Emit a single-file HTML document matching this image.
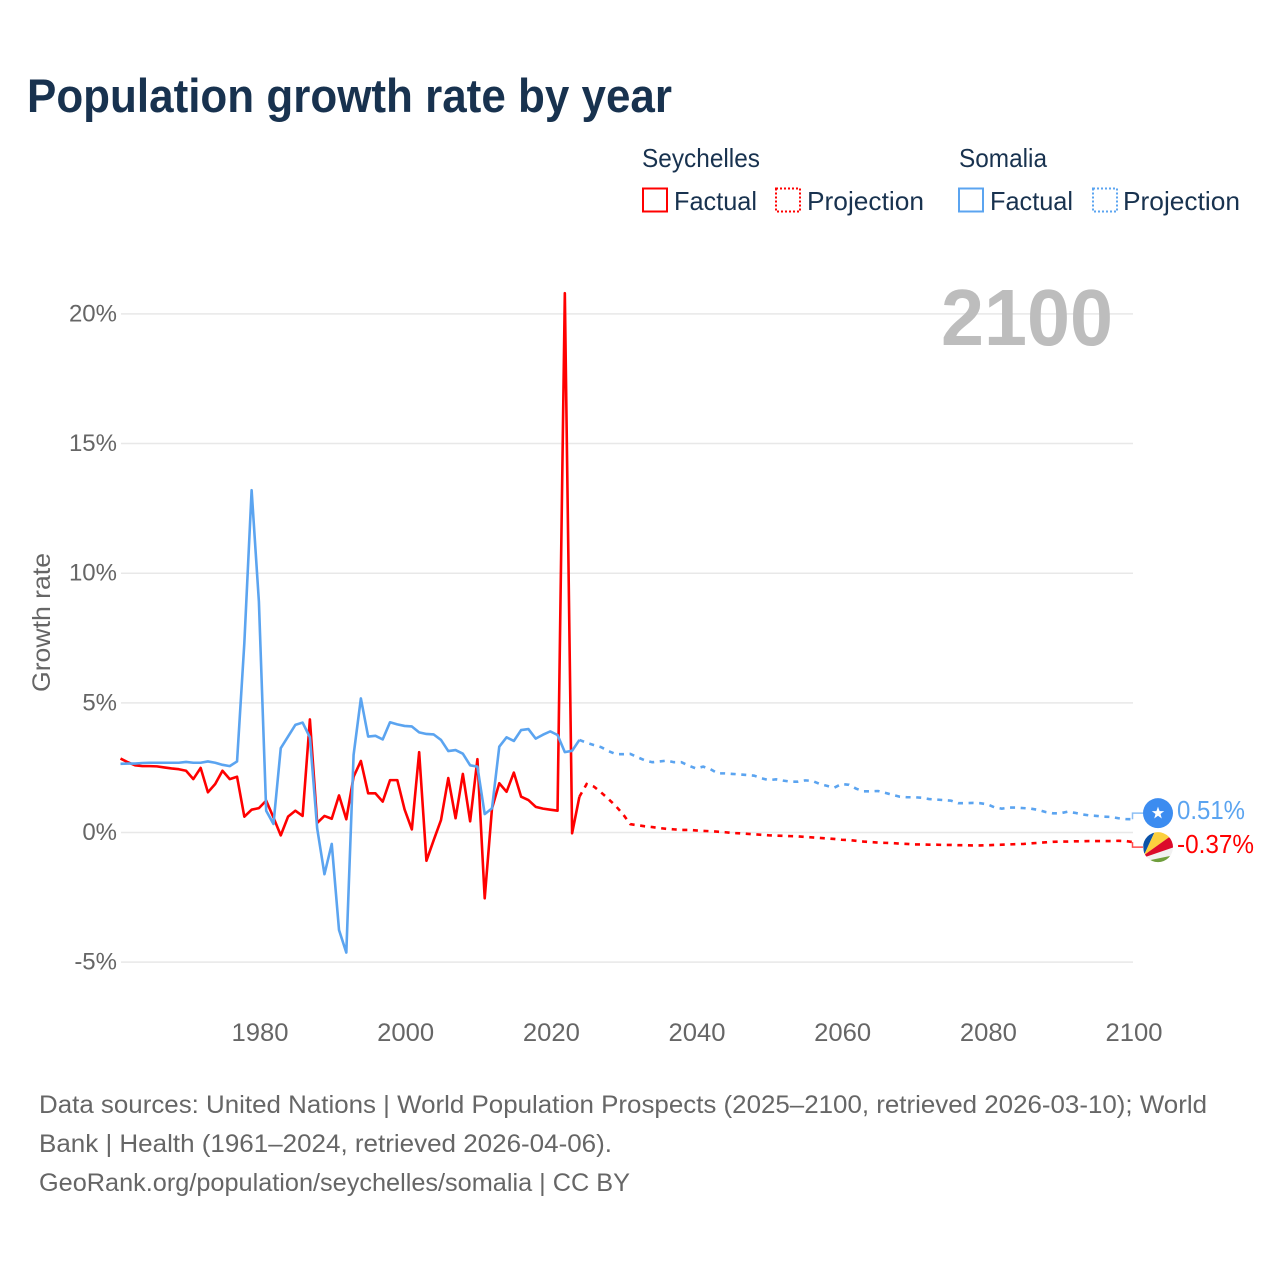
<!DOCTYPE html>
<html lang="en">
<head>
<meta charset="utf-8">
<title>Population growth rate by year</title>
<style>
html,body{margin:0;padding:0;background:#fff;}
svg{display:block;font-family:"Liberation Sans",sans-serif;}
</style>
</head>
<body>
<svg id="chart" xmlns="http://www.w3.org/2000/svg" width="1280" height="1280" viewBox="0 0 1280 1280">
  <defs>
    <clipPath id="flag-clip"><circle cx="0" cy="0" r="15"/></clipPath>
  </defs>
  <rect x="0" y="0" width="1280" height="1280" fill="#fff"/>
  <text x="27" y="112" font-size="47" font-weight="700" fill="#18324f" textLength="645" lengthAdjust="spacingAndGlyphs">Population growth rate by year</text>

  <g font-size="26" fill="#18324f">
    <text x="642" y="167" textLength="118" lengthAdjust="spacingAndGlyphs">Seychelles</text>
    <g>
      <rect x="643" y="188.5" width="24" height="23" fill="none" stroke="#ff0000" stroke-width="2"/>
      <text x="674" y="210" textLength="83" lengthAdjust="spacingAndGlyphs">Factual</text>
    </g>
    <g>
      <rect x="776" y="188.5" width="24" height="23" fill="none" stroke="#ff0000" stroke-width="2" stroke-dasharray="2 2"/>
      <text x="807" y="210" textLength="117" lengthAdjust="spacingAndGlyphs">Projection</text>
    </g>
    <text x="959" y="167" textLength="88" lengthAdjust="spacingAndGlyphs">Somalia</text>
    <g>
      <rect x="959" y="188.5" width="24" height="23" fill="none" stroke="#5ba4f0" stroke-width="2"/>
      <text x="990" y="210" textLength="83" lengthAdjust="spacingAndGlyphs">Factual</text>
    </g>
    <g>
      <rect x="1093" y="188.5" width="24" height="23" fill="none" stroke="#5ba4f0" stroke-width="2" stroke-dasharray="2 2"/>
      <text x="1123" y="210" textLength="117" lengthAdjust="spacingAndGlyphs">Projection</text>
    </g>
  </g>

  <text transform="translate(50,692) rotate(-90)" font-size="25" fill="#666" textLength="139" lengthAdjust="spacingAndGlyphs">Growth rate</text>

  <g id="grid"></g>
  <g id="yticks"></g>
  <g id="xticks"></g>

  <text x="1113" y="345" text-anchor="end" font-size="80" font-weight="700" fill="#bdbdbd" textLength="172" lengthAdjust="spacingAndGlyphs">2100</text>

  <g id="series"></g>

  <g id="flag-somalia">
    <circle cx="0" cy="0" r="15" fill="#3c8cf0"/>
    <polygon points="0,-6.5 1.6,-2 6.2,-2 2.5,0.8 3.8,5.3 0,2.6 -3.8,5.3 -2.5,0.8 -6.2,-2 -1.6,-2" fill="#fff"/>
  </g>
  <g id="flag-seychelles">
    <g clip-path="url(#flag-clip)">
      <rect x="-16" y="-16" width="32" height="32" fill="#f1f1f1"/>
      <polygon points="-14,8 -16,-16 -3,-16" fill="#0b52a8"/>
      <polygon points="-14,8 -3,-16 10,-16 14,-12" fill="#fcd03e"/>
      <polygon points="-14,8 14,-12 16,0 -13,10" fill="#dc0a2a"/>
      <polygon points="-8,13 16,8 16,16 -8,16" fill="#6f9e3c"/>
    </g>
  </g>
  <text id="label-somalia" x="1177" font-size="26" fill="#5ba4f0" textLength="68" lengthAdjust="spacingAndGlyphs"></text>
  <text id="label-seychelles" x="1177" font-size="26" fill="#ff0000" textLength="77" lengthAdjust="spacingAndGlyphs"></text>

  <g font-size="25" fill="#666">
    <text x="39" y="1113" textLength="1168" lengthAdjust="spacingAndGlyphs">Data sources: United Nations | World Population Prospects (2025–2100, retrieved 2026-03-10); World</text>
    <text x="39" y="1152" textLength="573" lengthAdjust="spacingAndGlyphs">Bank | Health (1961–2024, retrieved 2026-04-06).</text>
    <text x="39" y="1191" textLength="591" lengthAdjust="spacingAndGlyphs">GeoRank.org/population/seychelles/somalia | CC BY</text>
  </g>
</svg>
<script>
const firstYear = 1961;
const lastFactualYear = 2024;
const yTickValues = [20, 15, 10, 5, 0, -5];
const xTickYears = [1980, 2000, 2020, 2040, 2060, 2080, 2100];

const seychellesFactual = [
  2.85, 2.71, 2.59, 2.56, 2.56, 2.55, 2.51, 2.47, 2.44, 2.38,
  2.06, 2.49, 1.55, 1.87, 2.38, 2.06, 2.15, 0.61, 0.88, 0.94,
  1.23, 0.58, -0.11, 0.61, 0.84, 0.64, 4.36, 0.37, 0.64, 0.53,
  1.43, 0.51, 2.15, 2.76, 1.51, 1.51, 1.19, 2.02, 2.02, 0.89,
  0.12, 3.10, -1.09, -0.29, 0.48, 2.10, 0.55, 2.26, 0.43, 2.83,
  -2.54, 0.93, 1.90, 1.57, 2.31, 1.38, 1.25, 0.99, 0.92, 0.88,
  0.84, 20.8, -0.03, 1.38
];
const seychellesProjection = [
  1.87, 1.77, 1.54, 1.29, 1.02, 0.70, 0.32, 0.28, 0.24, 0.21,
  0.17, 0.14, 0.12, 0.10, 0.10, 0.08, 0.06, 0.05, 0.03, 0.01,
  -0.02, -0.03, -0.05, -0.07, -0.09, -0.11, -0.12, -0.13, -0.14, -0.15,
  -0.17, -0.19, -0.21, -0.23, -0.25, -0.28, -0.29, -0.32, -0.35, -0.37,
  -0.39, -0.40, -0.41, -0.43, -0.44, -0.46, -0.46, -0.47, -0.47, -0.48,
  -0.48, -0.49, -0.49, -0.50, -0.50, -0.49, -0.48, -0.47, -0.46, -0.45,
  -0.44, -0.42, -0.40, -0.38, -0.36, -0.35, -0.35, -0.34, -0.34, -0.33,
  -0.33, -0.33, -0.33, -0.32, -0.33, -0.37
];
const somaliaFactual = [
  2.65, 2.66, 2.66, 2.68, 2.69, 2.69, 2.69, 2.69, 2.69, 2.72,
  2.69, 2.69, 2.74, 2.69, 2.61, 2.56, 2.74, 7.3, 13.2, 8.9,
  0.84, 0.33, 3.25, 3.70, 4.15, 4.24, 3.67, 0.16, -1.61, -0.44,
  -3.76, -4.63, 2.99, 5.17, 3.70, 3.73, 3.59, 4.25, 4.17, 4.11,
  4.09, 3.86, 3.80, 3.78, 3.57, 3.14, 3.18, 3.04, 2.59, 2.54,
  0.71, 0.93, 3.31, 3.67, 3.53, 3.95, 3.99, 3.62, 3.77, 3.90,
  3.76, 3.10, 3.15, 3.57
];
const somaliaProjection = [
  3.46, 3.37, 3.29, 3.14, 3.02, 3.02, 3.03, 2.90, 2.78, 2.71,
  2.74, 2.77, 2.71, 2.71, 2.58, 2.47, 2.54, 2.44, 2.28, 2.28,
  2.26, 2.24, 2.22, 2.19, 2.09, 2.02, 2.05, 2.00, 1.96, 1.96,
  2.01, 1.99, 1.87, 1.80, 1.73, 1.87, 1.84, 1.69, 1.59, 1.59,
  1.60, 1.53, 1.45, 1.38, 1.36, 1.36, 1.34, 1.29, 1.27, 1.25,
  1.23, 1.13, 1.13, 1.14, 1.13, 1.09, 0.97, 0.92, 0.96, 0.96,
  0.94, 0.92, 0.87, 0.79, 0.74, 0.74, 0.80, 0.76, 0.70, 0.66,
  0.64, 0.61, 0.60, 0.55, 0.52, 0.51
];

const NS = 'http://www.w3.org/2000/svg';
function xScale(year) { return 258.9 + (year - 1980) * 7.284; }
function xTickScale(year) { return 260 + (year - 1980) * 7.2833; }
function yScale(value) { return 832.5 - value * 25.93; }
function make(tag, attrs, parent) {
  const el = document.createElementNS(NS, tag);
  for (const key in attrs) el.setAttribute(key, attrs[key]);
  parent.appendChild(el);
  return el;
}
function linePath(startYear, values) {
  return values.map(function (v, i) {
    return (i ? 'L' : 'M') + xScale(startYear + i).toFixed(2) + ' ' + yScale(v).toFixed(2);
  }).join(' ');
}

const gridGroup = document.getElementById('grid');
const yTickGroup = document.getElementById('yticks');
const xTickGroup = document.getElementById('xticks');
const seriesGroup = document.getElementById('series');

yTickValues.forEach(function (v) {
  const line = make('line', { x1: 121, x2: 1133, y1: yScale(v), y2: yScale(v), stroke: '#e8e8e8', 'stroke-width': 1.5 }, gridGroup);
  
  
  const label = make('text', { x: 117, y: yScale(v) + 7.5, 'text-anchor': 'end', 'font-size': 24, fill: '#666' }, yTickGroup);
  
  
  label.textContent = v + '%';
});

xTickYears.forEach(function (year) {
  const label = make('text', { x: xTickScale(year), y: 1041, 'text-anchor': 'middle', 'font-size': 25, fill: '#666', textLength: 57, lengthAdjust: 'spacingAndGlyphs' }, xTickGroup);
  
  
  label.textContent = year;
});

function drawSeries(key, color, factual, projection) {
  const solid = make('path', { d: linePath(firstYear, factual), fill: 'none', stroke: color, 'stroke-width': 2.6, 'stroke-linejoin': 'round' }, seriesGroup);
  
  
  const joined = [factual[factual.length - 1]].concat(projection);
  const dashed = make('path', { d: linePath(lastFactualYear, joined), fill: 'none', stroke: color, 'stroke-width': 2.6, 'stroke-dasharray': '5 5.6' }, seriesGroup);
  
  
}
drawSeries('seychelles', '#ff0000', seychellesFactual, seychellesProjection);
drawSeries('somalia', '#5ba4f0', somaliaFactual, somaliaProjection);

const seychellesLast = seychellesProjection[seychellesProjection.length - 1];
const somaliaLast = somaliaProjection[somaliaProjection.length - 1];
let topY = yScale(somaliaLast);
let bottomY = yScale(seychellesLast);
if (bottomY - topY < 34) {
  const mid = (topY + bottomY) / 2 - 0.5;
  topY = mid - 17;
  bottomY = mid + 17;
}

function drawEnd(key, color, value, labelY) {
  const ay = yScale(value);
  const leader = make('path', { d: 'M1132.5 ' + ay.toFixed(2) + ' L1132.5 ' + labelY.toFixed(2) + ' L1143 ' + labelY.toFixed(2), fill: 'none', stroke: color, 'stroke-width': 1.5, opacity: 0.7 }, seriesGroup);
  
  
  document.getElementById('flag-' + key).setAttribute('transform', 'translate(1158,' + labelY.toFixed(2) + ')');
  const label = document.getElementById('label-' + key);
  label.setAttribute('y', (labelY + 6).toFixed(2));
  label.textContent = value.toFixed(2) + '%';
}
drawEnd('somalia', '#5ba4f0', somaliaLast, topY);
drawEnd('seychelles', '#ff0000', seychellesLast, bottomY);
</script>
</body>
</html>
